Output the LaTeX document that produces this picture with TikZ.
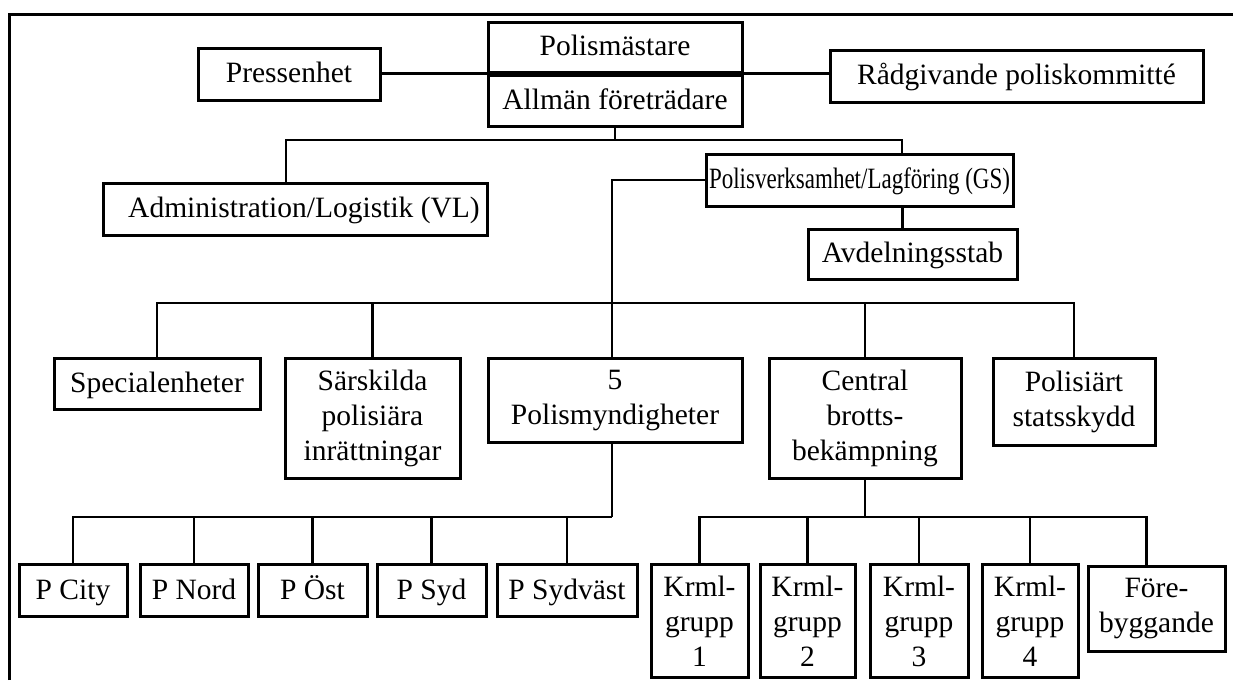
\documentclass[tikz,border=0pt]{standalone}
\usepackage{fontspec}
\setmainfont{Liberation Serif}
\usepackage{tikz}
\usetikzlibrary{positioning}
\tikzset{
  block/.style={
    rectangle,
    draw=black,
    line width=3pt,
    inner sep=0pt,
    align=center,
    font=\fontsize{29.5}{35}\selectfont
  },
  oneline/.style={
    block,
    text height=21pt,
    text depth=4pt
  },
  link/.style={
    line width=2.6pt
  }
}

\begin{document}
\begin{tikzpicture}[x=1pt,y=-1pt]
\useasboundingbox (0,0) rectangle (1233,680);

% frame
\draw[line width=3pt] (9,680) -- (9,14) -- (1233,14);

% top level
\node[oneline, minimum width=254pt, minimum height=50pt] (chief) at (615,47) {Polismästare};
\node[oneline, minimum width=254pt, minimum height=51pt, below=0pt of chief] (rep) {Allmän företrädare};
\node[oneline, minimum width=182pt, minimum height=52pt] (press) at (289,74) {Pressenhet};
\node[oneline, minimum width=373pt, minimum height=52pt] (advice) at (1016.5,76) {Rådgivande poliskommitté};

\node[oneline, minimum width=384pt, minimum height=52pt] (admin) at (295,209) {\hspace{18pt}Administration/Logistik (VL)};
\node[oneline, minimum width=307pt, minimum height=52pt] (ops) at (859.5,180) {\scalebox{0.78}[1]{Polisverksamhet/Lagföring (GS)}};
\node[oneline, minimum width=209pt, minimum height=50pt] (staff) at (912.5,254) {Avdelningsstab};

% middle row
\node[oneline, minimum width=206pt, minimum height=51pt, anchor=north] (spec) at (157,357) {Specialenheter};
\node[block, minimum width=175pt, minimum height=120pt, anchor=north] (inst) at (372.5,357) {Särskilda\\polisiära\\inrättningar};
\node[block, minimum width=254pt, minimum height=84pt, anchor=north] (auth) at (615,357) {5\\Polismyndigheter};
\node[block, minimum width=192pt, minimum height=120pt, anchor=north] (crime) at (865,357) {Central\\brotts-\\bekämpning};
\node[block, minimum width=162pt, minimum height=87pt, anchor=north] (prot) at (1074,357) {Polisiärt\\statsskydd};

% bottom row
\node[oneline, minimum width=108pt, minimum height=52pt, anchor=north] (pcity) at (73,563) {P City};
\node[oneline, minimum width=108pt, minimum height=52pt, anchor=north] (pnord) at (194,563) {P Nord};
\node[oneline, minimum width=109pt, minimum height=52pt, anchor=north] (post) at (312.5,563) {P Öst};
\node[oneline, minimum width=109pt, minimum height=52pt, anchor=north] (psyd) at (431.5,563) {P Syd};
\node[oneline, minimum width=140pt, minimum height=52pt, anchor=north] (psv) at (567,563) {P Sydväst};

\node[block, minimum width=97pt, minimum height=113pt, anchor=north] (krml1) at (699.5,563) {Krml-\\grupp\\1};
\node[block, minimum width=95pt, minimum height=113pt, anchor=north] (krml2) at (807.5,563) {Krml-\\grupp\\2};
\node[block, minimum width=98pt, minimum height=113pt, anchor=north] (krml3) at (919,563) {Krml-\\grupp\\3};
\node[block, minimum width=96pt, minimum height=113pt, anchor=north] (krml4) at (1030,563) {Krml-\\grupp\\4};
\node[block, minimum width=137pt, minimum height=85pt, anchor=north] (prev) at (1156.5,565) {Före-\\byggande};

% connectors
\coordinate (topbus) at (615,140);
\coordinate (midbus) at (612,303);
\coordinate (leftbus) at (612,517);
\coordinate (rightbus) at (865,517);

\draw[link] (press.east |- chief.south) -- (chief.south west);
\draw[link] (chief.south east) -- (chief.south east -| advice.west);

\draw[link] (rep.south) -- (topbus);
\draw[link] ([xshift=-9pt]admin.north) |- (topbus) -| ([xshift=42.5pt]ops.north);
\draw[link] ([xshift=43pt]ops.south) -- ([xshift=43pt]ops.south |- staff.north);

\draw[link] (ops.west) -| ([xshift=-3pt]auth.north);
\draw[link] (spec.north) |- (midbus) -| (prot.north);
\foreach \n in {inst,crime}
  \draw[link] (\n.north) -- (\n.north |- midbus);

\draw[link] ([xshift=-3pt]auth.south) -- (leftbus);
\draw[link] (pcity.north) |- (leftbus);
\foreach \n in {pnord,post,psyd,psv}
  \draw[link] (\n.north) -- (\n.north |- leftbus);

\draw[link] (crime.south) -- (rightbus);
\draw[link] (krml1.north) |- (rightbus) -| ([xshift=-10pt]prev.north);
\foreach \n in {krml2,krml3,krml4}
  \draw[link] (\n.north) -- (\n.north |- rightbus);

\end{tikzpicture}
\end{document}
